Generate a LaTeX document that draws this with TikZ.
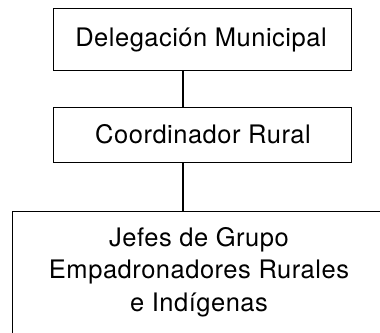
\documentclass[tikz,border=0pt]{standalone}
\usepackage{fontspec}
\setmainfont{TeX Gyre Heros}[LetterSpace=2]
\begin{document}
\begin{tikzpicture}[x=1pt,y=1pt,
  box/.style={draw, line width=1.3pt, rectangle, inner sep=0pt, anchor=north west},
  lbl/.style={font=\fontsize{25.5}{32.5}\selectfont, align=center, inner sep=0pt},
  link/.style={line width=1.1pt}]
\useasboundingbox (0,0) rectangle (380,-332);
\clip (0,0) rectangle (380,-332);
\node[box, minimum width=298pt, minimum height=62pt] (a) at (53,-8) {};
\node[lbl] (at) at (201,-40) {Delegación Municipal};
\node[box, minimum width=298pt, minimum height=55pt] (b) at (53,-107) {};
\node[lbl] (bt) at (203,-134.5) {Coordinador Rural};
\node[box, minimum width=400pt, minimum height=160pt] (c) at (12,-211) {};
\node[lbl] (ct) at (199,-272) {Jefes de Grupo\\Empadronadores Rurales\\e Indígenas};
\draw[link] (a.south -| 183,0) -- (b.north -| 183,0);
\draw[link] (b.south -| 183,0) -- (c.north -| 183,0);
\end{tikzpicture}
\end{document}
